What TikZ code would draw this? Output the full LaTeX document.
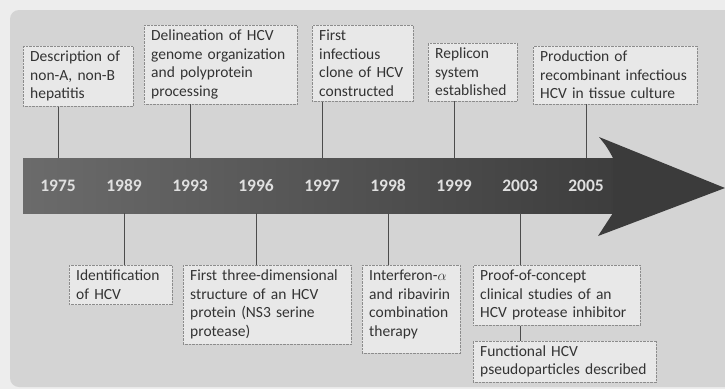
\documentclass[tikz,border=0pt]{standalone}
\usepackage{fontspec}
\setmainfont{Carlito}
\usetikzlibrary{positioning}

\tikzset{
  event/.style={fill=black!9, draw=black!45, densely dotted, align=left, anchor=north west,
    inner xsep=7pt, inner ysep=5pt, text=black!80, font=\fontsize{15.5}{18.5}\selectfont},
  year/.style={text=black!12, font=\bfseries\fontsize{17.5}{17.5}\selectfont},
  stem/.style={draw=black!70, line width=0.8pt}
}

\begin{document}
\begin{tikzpicture}[x=1pt, y=-1pt]
	\useasboundingbox (0,0) rectangle (725,389);
	\fill[black!7] (0,0) rectangle (725,389);
	\fill[black!17, rounded corners=9pt] (10,10) rectangle (740,387);

	% the time arrow
	\shade[left color=black!58, right color=black!76] (23,158) rectangle (614,213);
	\fill[black!77] (599,137) .. controls (607,147) .. (613,158) -- (613,213)
		.. controls (606,224) .. (598,236) -- (725,188) -- cycle;
	\coordinate (bandtop) at (0,158);
	\coordinate (bandbot) at (0,213);

	\foreach \yr [count=\i] in {1975,1989,1993,1996,1997,1998,1999,2003,2005}
		\node[year] (y\yr) at ({58+66*(\i-1)},186) {\yr};

	% above the arrow
	\node[event, text width=96pt] (e1975) at (23,46) {Description of\\non-A, non-B\\hepatitis};
	\node[event, text width=139pt] (e1993) at (144,25) {Delineation of HCV\\genome organization\\and polyprotein\\processing};
	\node[event, text width=87pt] (e1997) at (312,25) {First\\infectious\\clone of HCV\\constructed};
	\node[event, text width=75pt] (e1999) at (428,43) {Replicon\\system\\established};
	\node[event, text width=150pt] (e2005) at (533,46) {Production of\\recombinant infectious\\HCV in tissue culture};

	% below the arrow
	\node[event, text width=89pt] (e1989) at (69,265) {Identification\\of HCV};
	\node[event, text width=154pt] (e1996) at (183,265) {First three-dimensional\\structure of an HCV\\protein (NS3 serine\\protease)};
	\node[event, text width=84pt] (e1998) at (362,265) {Interferon-$\alpha$\\and ribavirin\\combination\\therapy\rule[-12pt]{0pt}{0pt}};
	\node[event, text width=153pt] (e2003) at (473,265) {Proof-of-concept\\clinical studies of an\\HCV protease inhibitor};
	\node[event, text width=169pt, below=15pt of e2003.south west, anchor=north west] (e2003b) {Functional HCV\\pseudoparticles described};

	\foreach \yr in {1975,1993,1997,1999,2005}
		\draw[stem] (y\yr |- e\yr.south) -- (y\yr |- bandtop);
	\foreach \yr in {1989,1996,1998,2003}
		\draw[stem] (y\yr |- bandbot) -- (y\yr |- e\yr.north);
	\draw[stem] (y2003 |- e2003.south) -- (y2003 |- e2003b.north);
\end{tikzpicture}
\end{document}
